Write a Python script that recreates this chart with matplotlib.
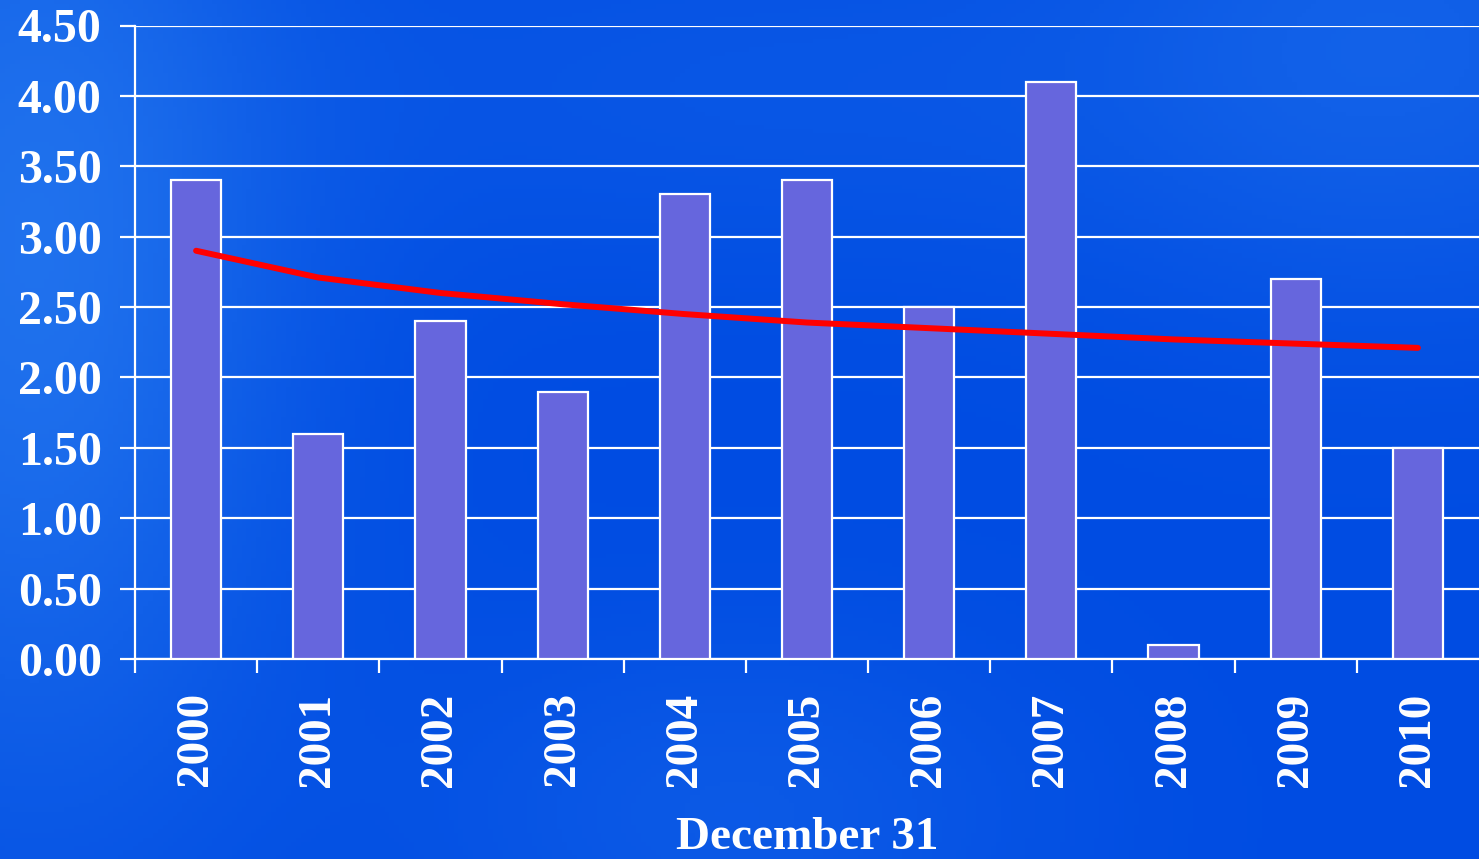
import numpy as np
import matplotlib
matplotlib.use('Agg')
import matplotlib.pyplot as plt
from matplotlib.colors import LinearSegmentedColormap

years = ['2000', '2001', '2002', '2003', '2004', '2005',
         '2006', '2007', '2008', '2009', '2010']
values = [3.4, 1.6, 2.4, 1.9, 3.3, 3.4, 2.5, 4.1, 0.1, 2.7, 1.5]
# logarithmic trend line
trend = [2.90, 2.71, 2.60, 2.52, 2.45, 2.39, 2.35, 2.31, 2.27, 2.24, 2.21]
yticks = [0.0, 0.5, 1.0, 1.5, 2.0, 2.5, 3.0, 3.5, 4.0, 4.5]
xlabel = 'December 31'

plt.rcParams['font.family'] = ['Liberation Serif', 'DejaVu Serif']
plt.rcParams['font.weight'] = 'bold'

fig = plt.figure(figsize=(14.79, 8.59), dpi=100)

# blue textured-looking background
bg = fig.add_axes([0, 0, 1, 1], zorder=0)
bg.axis('off')
gx, gy = np.meshgrid(np.linspace(0, 1, 300), np.linspace(0, 1, 200))
shade = 0.55 * np.exp(-((gx - 0.02) ** 2 / 0.03 + (gy - 0.3) ** 2 / 0.4)) \
    + 0.3 * np.exp(-((gx - 0.95) ** 2 / 0.05 + (gy - 0.05) ** 2 / 0.1)) \
    + 0.2 * np.exp(-((gx - 0.5) ** 2 / 0.05 + (gy - 0.95) ** 2 / 0.05)) \
    + 0.15 * np.exp(-((gx - 0.5) ** 2 / 0.1 + (gy - 0.1) ** 2 / 0.05))
cmap = LinearSegmentedColormap.from_list('bg', ['#004ce2', '#2274ee'])
bg.imshow(shade, cmap=cmap, aspect='auto', extent=[0, 1, 0, 1], vmin=0, vmax=0.6)

ax = fig.add_axes([135 / 1479, 1 - 659 / 859, 1 - 135 / 1479, (659 - 25.5) / 859], zorder=1)
ax.set_facecolor('none')

x = np.arange(len(years))
ax.bar(x, values, width=0.41, color='#6666dd', edgecolor='white', linewidth=1.6, zorder=3)
ax.plot(x, trend, color='#ff0000', linewidth=4.3, zorder=4, solid_capstyle='round')

ax.set_xlim(-0.5, len(years) - 0.5)
ax.set_ylim(0, 4.5)
ax.set_yticks(yticks)
ax.set_yticklabels(['%.2f' % v for v in yticks])
ax.yaxis.grid(True, color='white', linewidth=1.6, zorder=1)
ax.set_axisbelow(True)

ax.set_xticks(x)
ax.set_xticklabels(years, rotation=90)
ax.set_xticks(np.arange(-0.5, len(years) - 1), minor=True)
ax.tick_params(axis='x', which='major', length=0, pad=24, labelsize=34, colors='white')
ax.tick_params(axis='x', which='minor', length=10, width=1.6, color='white')
ax.tick_params(axis='y', length=11, width=1.6, pad=13, labelsize=34.5, colors='white')

for side in ['top', 'right']:
    ax.spines[side].set_visible(False)
for side in ['left', 'bottom']:
    ax.spines[side].set_color('white')
    ax.spines[side].set_linewidth(1.6)

fig.text((135 + 1479) / 2 / 1479, 1 - 838 / 859, xlabel, color='white',
         fontsize=34, fontweight='bold', ha='center', va='center')

fig.savefig('out.png', dpi=100)
